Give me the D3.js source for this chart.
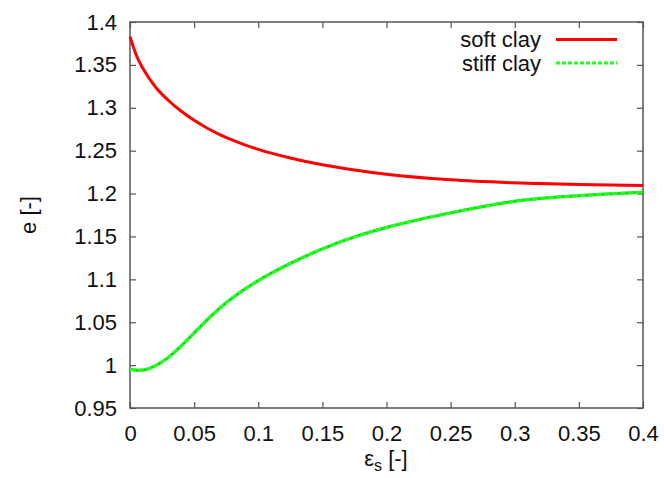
<!DOCTYPE html>
<html><head><meta charset="utf-8">
<script src="https://cdn.jsdelivr.net/npm/d3@7"></script>
<style>body{margin:0;background:#fff}svg{display:block}text{font-family:"Liberation Sans",Arial,sans-serif;fill:#111}</style>
</head><body>
<svg id="c" width="664" height="478"></svg>
<script>
const eps = [0, 0.005, 0.01, 0.02, 0.03, 0.04, 0.05, 0.06, 0.07, 0.08, 0.09, 0.1, 0.125, 0.15, 0.175, 0.2, 0.25, 0.3, 0.35, 0.4];
const softClay = [1.383, 1.361, 1.346, 1.324, 1.3085, 1.296, 1.2855, 1.2765, 1.2688, 1.2622, 1.2565, 1.2515, 1.2415, 1.2335, 1.2275, 1.2225, 1.216, 1.2125, 1.2105, 1.2093];
const stiffClay = [0.9955, 0.994, 0.9942, 0.9995, 1.009, 1.0225, 1.0375, 1.0525, 1.0665, 1.0785, 1.089, 1.0985, 1.1185, 1.1355, 1.1495, 1.1605, 1.1775, 1.191, 1.1975, 1.2015];
const xTicks = [0, 0.05, 0.1, 0.15, 0.2, 0.25, 0.3, 0.35, 0.4];
const yTicks = [0.95, 1, 1.05, 1.1, 1.15, 1.2, 1.25, 1.3, 1.35, 1.4];
const seriesNames = ["soft clay", "stiff clay"];

const L = 130, R = 643, T = 22, B = 408;
const FS = "22px";
const svg = d3.select("#c");
const x = d3.scaleLinear().domain([0, 0.4]).range([L, R]);
const y = d3.scaleLinear().domain([0.95, 1.4]).range([B, T]);
const fmt = d => String(+d.toFixed(2));
const axisColor = "#555";

function styleAxis(g, hideText) {
  g.select(".domain").remove();
  g.selectAll(".tick line").attr("stroke", axisColor).attr("stroke-width", 1.2);
  g.selectAll(".tick text").style("font-size", FS).attr("fill", "#111");
  if (hideText) g.selectAll(".tick text").remove();
}
const tk = 6;
svg.append("g").attr("transform", `translate(0,${B})`)
  .call(d3.axisBottom(x).tickValues(xTicks).tickFormat(fmt).tickSizeInner(-tk).tickSizeOuter(0).tickPadding(17))
  .call(g => styleAxis(g));
svg.append("g").attr("transform", `translate(0,${T})`)
  .call(d3.axisTop(x).tickValues(xTicks).tickSizeInner(-tk).tickSizeOuter(0))
  .call(g => styleAxis(g, true));
svg.append("g").attr("transform", `translate(${L},0)`)
  .call(d3.axisLeft(y).tickValues(yTicks).tickFormat(fmt).tickSizeInner(-tk).tickSizeOuter(0).tickPadding(13))
  .call(g => styleAxis(g));
svg.append("g").attr("transform", `translate(${R},0)`)
  .call(d3.axisRight(y).tickValues(yTicks).tickSizeInner(-tk).tickSizeOuter(0))
  .call(g => styleAxis(g, true));

svg.append("rect").attr("x", L).attr("y", T).attr("width", R - L).attr("height", B - T)
  .attr("fill", "none").attr("stroke", axisColor).attr("stroke-width", 1.5);

const line = d3.line().x(d => x(d[0])).y(d => y(d[1])).curve(d3.curveMonotoneX);
svg.append("path").datum(eps.map((e, i) => [e, softClay[i]]))
  .attr("d", line).attr("fill", "none").attr("stroke", "#ff0000").attr("stroke-width", 3);
svg.append("path").datum(eps.map((e, i) => [e, stiffClay[i]]))
  .attr("d", line).attr("fill", "none").attr("stroke", "#00e000").attr("stroke-width", 3);
svg.append("path").datum(eps.map((e, i) => [e, stiffClay[i]]))
  .attr("d", line).attr("fill", "none").attr("stroke", "#22ff22").attr("stroke-width", 3).attr("stroke-dasharray", "6,2");

// legend
const lg = svg.append("g");
const lc = ["#ff0000", "#22ff22"];
seriesNames.forEach((n, i) => {
  const yy = 39.5 + i * 23.5;
  lg.append("text").attr("x", 541).attr("y", yy + 7.5).attr("text-anchor", "end").style("font-size", FS).text(n);
  const ln = lg.append("line").attr("x1", 556).attr("x2", 617).attr("y1", yy).attr("y2", yy)
    .attr("stroke", lc[i]).attr("stroke-width", 3);
  if (i === 1) ln.attr("stroke-dasharray", "4,2");
});

// axis titles
svg.append("text").attr("transform", "translate(36,215) rotate(-90)").attr("text-anchor", "middle")
  .style("font-size", FS).text("e [-]");
const xl = svg.append("text").attr("x", 386).attr("y", 466).attr("text-anchor", "middle").style("font-size", FS);
xl.append("tspan").text("ε");
xl.append("tspan").attr("dy", 5).style("font-size", "16px").text("s");
xl.append("tspan").attr("dy", -5).text(" [-]");
</script>
</body></html>
